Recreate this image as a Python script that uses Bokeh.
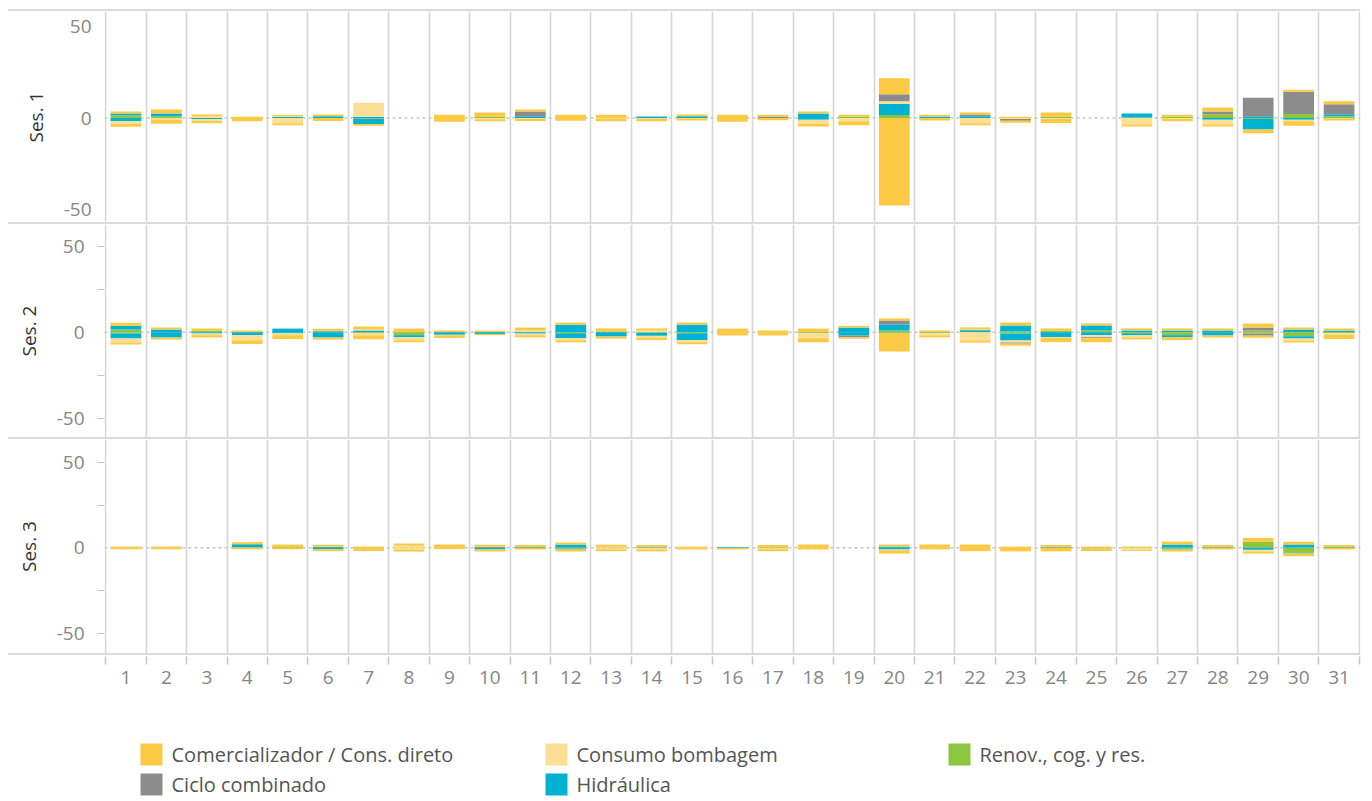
from bokeh.plotting import figure
from bokeh.models import Range1d, FixedTicker, Span, Div, ColumnDataSource
from bokeh.layouts import column
from bokeh.embed import file_html
from bokeh.resources import INLINE
from bokeh.core.properties import value

# ---------------- data ----------------
DAYS = list(range(1, 32))
DAY_LABELS = [str(d) for d in DAYS]
SESSIONS = ["Ses. 1", "Ses. 2", "Ses. 3"]
SERIES = ["Renov., cog. y res.", "Hidráulica", "Consumo bombagem",
          "Ciclo combinado", "Comercializador / Cons. direto"]
COLORS = ["#8CC540", "#00B2D1", "#FADF95", "#8C8C8C", "#FCC943"]
LEGEND_ORDER = ["Comercializador / Cons. direto", "Consumo bombagem", "Renov., cog. y res.",
                "Ciclo combinado", "Hidráulica"]
Y_TICKS = [-50, 0, 50]
Y_TICK_LABELS = ["-50", "0", "50"]

# Ses. 1
S1_REN_POS = [1.5,0.9,0,0,0,0,0,0,0,0.8,0,0,0,0,0,0,0,0,0.8,1.6,0,0,0,0.8,0,0.3,0.8,2.0,0,2.2,0.9]
S1_HID_POS = [1.0,1.5,0,0,0.5,1.0,0.7,0,0,0,1.0,0,0,0.8,1.0,0,0,2.4,0,6.0,0.8,1.0,0,0,0,2.2,0,0,0.9,0,1.1]
S1_BOM_POS = [0,0,1.0,0,0.3,0,7.6,0,0,0,0,0,0,0,0,0,0,0,0,1.6,0,0,0,0,0,0,0,0,0,0,0]
S1_CIC_POS = [0,0,0,0,0,0,0,0,0,0,2.5,0,0,0,0,0,0.8,0,0,3.8,0,0.9,0,0,0,0,0,1.5,10.2,12.2,5.5]
S1_COM_POS = [1.0,2.2,0.9,0.7,0.9,0.9,0,0,1.8,2.2,1.1,1.8,1.8,0,0.9,1.8,1.0,1.1,1.0,8.7,1.0,1.1,0.7,2.2,0,0,1.0,2.2,0,1.1,1.6]
S1_REN_NEG = [0,0,0,0,0,0,-0.4,0,0,0,0,0,0,0,0,0,0,0,0,0,0,0,0,0,0,0,0,0,-0.5,0,0]
S1_HID_NEG = [-1.8,0,-0.5,0,0,0,-2.9,0,0,0,0,0,0,0,0,0,0,-0.9,0,0,0,0,0,0,0,0,0,-0.9,-5.8,-0.9,0]
S1_BOM_NEG = [-1.5,-0.9,-1.1,0,-2.9,0,0,0,0,-0.7,-0.5,0,-0.5,-0.4,-0.3,0,0,-2.2,-1.8,0,0,-2.9,-0.5,-0.5,0,-3.6,-0.5,-2.7,0,-0.9,-0.3]
S1_CIC_NEG = [0,0,0,0,0,0,0,0,0,0,0,0,0,0,0,0,0,0,0,0,0,0,-1.0,0,0,0,0,0,0,0,0]
S1_COM_NEG = [-1.5,-2.2,-1.3,-1.8,-1.1,-1.6,-0.9,0,-2.0,-1.1,-1.1,-1.5,-1.3,-1.4,-1.0,-2.0,-1.2,-1.6,-2.2,-47.8,-1.3,-1.1,-1.1,-2.2,0,-1.1,-1.3,-1.1,-2.0,-2.4,-1.0]

# Ses. 2
S2_REN_POS = [1.5,0,1.0,0,0,0.4,0,0,0,0,0,0,0.4,0,0,0,0,0,0,1.0,0,0,0.4,1.0,1.0,0,0,0,1.0,0,0]
S2_HID_POS = [2.3,1.5,0,0,2.1,0.4,1.0,0,0,0,0,4.4,0,0,4.4,0,0,0,2.7,3.5,0,1.2,3.5,0,2.9,1.0,1.0,1.0,0,1.5,1.0]
S2_BOM_POS = [0,0,0,0,0,0,0.6,0,0,0,1.0,0,0,1.0,0,0,0,0,0,0,0,0.4,0,0,0,0,0,0,0,0,0]
S2_CIC_POS = [0,0,0,0,0,0,0,0,0,0,0,0,0,0,0,0,0,0,0,2.3,0,0,0,0,0,0,0,0,1.7,0,0]
S2_COM_POS = [1.7,1.2,1.2,1.0,0,1.2,1.7,2.1,1.0,0.9,1.7,1.2,1.8,1.2,1.2,2.1,1.0,2.1,1.0,1.2,1.0,1.2,1.7,1.2,1.2,1.2,1.2,1.2,2.3,1.2,1.2]
S2_REN_NEG = [-0.8,0,0,0,0,0,-0.6,-1.7,0,0,0,-0.6,0,-0.4,-0.6,0,0,-0.6,0,-0.8,-0.6,0,-0.8,0,0,-0.6,-1.7,0,-0.8,-2.3,-0.6]
S2_HID_NEG = [-2.9,-3.1,-0.8,-1.7,-0.7,-3.1,0,-1.2,-1.5,-1.0,-0.8,-2.9,-2.5,-1.7,-4.0,0,0,0,-2.0,0,0,0,-4.0,-2.9,-1.7,-1.2,-1.2,-1.9,0,-1.3,0]
S2_BOM_NEG = [-2.3,0,-1.0,-2.9,-1.0,0,-1.2,-1.7,-0.3,0,-1.0,-1.2,0,-1.2,-1.2,0,0,-2.9,0,0,-1.2,-4.8,-1.2,-0.5,-1.2,-1.2,0,0,0,-1.2,-1.0]
S2_CIC_NEG = [0,0,0,0,0,0,0,0,0,0,0,0,0,0,0,0,0,0,-1.0,0,0,0,-0.6,0,-0.6,0,0,0,-1.2,0,0]
S2_COM_NEG = [-1.2,-1.2,-1.2,-2.3,-2.3,-1.2,-2.3,-1.2,-1.5,-0.7,-1.2,-1.2,-1.2,-1.2,-1.2,-1.9,-1.9,-2.3,-0.8,-10.4,-1.2,-1.2,-1.2,-2.4,-2.3,-1.2,-1.7,-1.2,-1.2,-1.2,-2.3]

# Ses. 3
S3_REN_POS = [0,0,0,0.4,0.4,0,0,0.2,0,0,0,0,0,0,0,0,0.4,0,0,0,0,0,0,0,0,0,0,0,3.5,0,0]
S3_HID_POS = [0,0,0,1.7,0,0.6,0,0,0,0,0.5,1.9,0,0.4,0,0.5,0,0,0,0.7,0,0,0,0.4,0,0,1.9,0.4,0,1.9,0.4]
S3_BOM_POS = [0,0,0,0,0,0,0,1.0,0,0,0,0,0.6,0,0,0,0,0,0,0,0,0,0,0,0,0,0,0,0,0,0]
S3_CIC_POS = [0,0,0,0,0,0,0,0,0,0.6,0,0,0,0,0,0,0,0,0,0,0,0,0,0,0,0,0,0,0,0,0]
S3_COM_POS = [0.7,0.7,0,1.2,1.5,1.2,0.7,1.3,1.9,1.2,1.2,1.2,1.2,1.2,0.7,0,1.2,1.9,0,1.2,1.9,1.9,0.7,1.2,0.7,0.7,1.7,1.2,2.3,1.7,1.2]
S3_REN_NEG = [0,0,0,0,0,0,-0.2,0,0,0,0,-0.6,-0.3,0,0,0,0,0,0,0,0,0,0,0,-0.4,-0.3,-0.6,0,0,-2.9,0]
S3_HID_NEG = [0,0,0,0,0,-0.8,0,0,0,-1.0,0,-0.4,0,0,0,0,0,0,0,-1.0,0,0,0,0,0,0,-0.4,0,-1.2,-0.4,0]
S3_BOM_NEG = [0,0,0,0,0,0,0,-1.0,0,0,0,0,-0.5,-0.9,0,0,-0.8,0,0,-0.4,0,0,0,0,0,-1.0,0,0,-1.0,0,0]
S3_CIC_NEG = [0,0,0,0,0,0,0,0,0,0,0,0,0,0,0,0,0,0,0,0,0,0,0,0,0,0,0,0,0,0,0]
S3_COM_NEG = [-0.8,-0.8,0,-0.9,-0.9,-1.2,-1.7,-1.2,-0.8,-1.2,-1.0,-1.2,-1.2,-1.2,-1.0,-1.0,-1.2,-1.0,0,-2.0,-0.9,-2.0,-2.1,-2.1,-1.5,-0.5,-1.2,-1.0,-1.2,-1.7,-1.0]

SESSION_DATA = [
    ([S1_REN_POS, S1_HID_POS, S1_BOM_POS, S1_CIC_POS, S1_COM_POS],
     [S1_REN_NEG, S1_HID_NEG, S1_BOM_NEG, S1_CIC_NEG, S1_COM_NEG]),
    ([S2_REN_POS, S2_HID_POS, S2_BOM_POS, S2_CIC_POS, S2_COM_POS],
     [S2_REN_NEG, S2_HID_NEG, S2_BOM_NEG, S2_CIC_NEG, S2_COM_NEG]),
    ([S3_REN_POS, S3_HID_POS, S3_BOM_POS, S3_CIC_POS, S3_COM_POS],
     [S3_REN_NEG, S3_HID_NEG, S3_BOM_NEG, S3_CIC_NEG, S3_COM_NEG]),
]

# ---------------- styling / layout ----------------
FONT = "Open Sans"
GRID_COLOR = "#d6d6d6"
TICK_COLOR = "#858585"
FRAME_W = 1256
LEFT = 104
RIGHT = 12
Y_RANGES = [(-57.1, 58.2), (-61.1, 62.5), (-61.9, 63.4)]
FRAME_HS = [211, 213, 214]
BOUNDS = [d - 0.5 for d in DAYS] + [DAYS[-1] + 0.5]

x_range = Range1d(0.47, 31.53)


def sep(top=0):
    return Div(text="", width=1352, height=2, margin=(top, 0, 0, 8),
               styles={"background-color": "#dadada"})


def panel(i):
    pos, neg = SESSION_DATA[i]
    p = figure(frame_width=FRAME_W, frame_height=FRAME_HS[i], x_range=x_range,
               y_range=Range1d(*Y_RANGES[i]), x_axis_location=None,
               output_backend="svg", toolbar_location=None,
               min_border_left=LEFT, min_border_right=RIGHT,
               min_border_top=0, min_border_bottom=0)
    p.outline_line_color = None
    p.ygrid.visible = False
    p.xgrid.ticker = FixedTicker(ticks=BOUNDS)
    p.xgrid.grid_line_color = GRID_COLOR
    p.xgrid.grid_line_width = 1.6

    p.add_layout(Span(location=0, dimension="width", line_color="#c6c6c6",
                      line_dash="3 3", line_width=1.6, level="underlay"))

    data = {"day": DAYS}
    pk, nk = [], []
    for j in range(len(SERIES)):
        data[f"p{j}"] = pos[j]
        data[f"n{j}"] = neg[j]
        pk.append(f"p{j}")
        nk.append(f"n{j}")
    src = ColumnDataSource(data)
    p.vbar_stack(stackers=pk, x="day", width=0.76, fill_color=COLORS,
                 line_color=None, source=src)
    p.vbar_stack(stackers=nk, x="day", width=0.76, fill_color=COLORS,
                 line_color=None, source=src)

    ax = p.yaxis[0]
    if i == 0:
        ax.ticker = FixedTicker(ticks=Y_TICKS)
    else:
        ax.ticker = FixedTicker(ticks=Y_TICKS, minor_ticks=[-50, -25, 25, 50])
        ax.minor_tick_out = 7
        ax.minor_tick_in = 0
        ax.minor_tick_line_color = "#c8c8c8"
        ax.minor_tick_line_width = 1.2
    ax.major_label_overrides = {t: s for t, s in zip(Y_TICKS, Y_TICK_LABELS)}
    ax.major_tick_out = 0
    ax.major_tick_in = 0
    ax.axis_line_color = None
    ax.major_label_standoff = 13
    ax.major_label_text_font = FONT
    ax.major_label_text_font_size = "19px"
    ax.major_label_text_color = TICK_COLOR
    ax.axis_label = SESSIONS[i]
    ax.axis_label_text_font = FONT
    ax.axis_label_text_font_size = "19px"
    ax.axis_label_text_font_style = "normal"
    ax.axis_label_text_color = "#333333"
    ax.axis_label_standoff = 12
    return p


panels = [panel(i) for i in range(3)]

# x axis strip
px = figure(frame_width=FRAME_W, height=46, x_range=x_range, y_range=Range1d(0, 1),
            y_axis_location=None, output_backend="svg", toolbar_location=None,
            min_border_left=LEFT, min_border_right=RIGHT, min_border_top=0,
            min_border_bottom=45)
px.outline_line_color = None
px.grid.visible = False
xa = px.xaxis[0]
xa.ticker = FixedTicker(ticks=DAYS, minor_ticks=BOUNDS)
xa.major_label_overrides = {d: lbl for d, lbl in zip(DAYS, DAY_LABELS)}
xa.axis_line_color = None
xa.major_tick_out = 0
xa.major_tick_in = 0
xa.minor_tick_out = 8
xa.minor_tick_in = 0
xa.minor_tick_line_color = "#c8c8c8"
xa.minor_tick_line_width = 1.6
xa.major_label_standoff = 6
xa.major_label_text_font = FONT
xa.major_label_text_font_size = "19px"
xa.major_label_text_color = TICK_COLOR

# legend strip (coordinates in page pixels)
LEG_TOP = 701
LEG_H = 99
pl = figure(frame_width=FRAME_W, frame_height=LEG_H, x_range=Range1d(LEFT, LEFT + FRAME_W),
            y_range=Range1d(LEG_TOP + LEG_H, LEG_TOP), output_backend="svg", toolbar_location=None,
            x_axis_location=None, y_axis_location=None,
            min_border_left=LEFT, min_border_right=RIGHT, min_border_top=0, min_border_bottom=0)
pl.outline_line_color = None
pl.grid.visible = False
col_x = [151, 556, 959]
row_y = [754, 784]
lx, ly, lc, lt = [], [], [], []
for k, name in enumerate(LEGEND_ORDER):
    r, c = divmod(k, 3)
    lx.append(col_x[c])
    ly.append(row_y[r])
    lc.append(COLORS[SERIES.index(name)])
    lt.append(name)
lsrc = ColumnDataSource(dict(x=lx, y=ly, c=lc, t=lt, tx=[v + 20 for v in lx]))
pl.scatter(x="x", y="y", marker="square", size=22, fill_color="c", line_color=None, source=lsrc)
pl.text(x="tx", y="y", text="t", text_font=value(FONT), text_font_size="20px",
        text_color="#555555", text_baseline="middle", text_align="left", source=lsrc)

layout = column(sep(9), panels[0], sep(), panels[1], sep(), panels[2], sep(), px, pl, spacing=0)

open("out.html", "w").write(file_html(layout, INLINE))
